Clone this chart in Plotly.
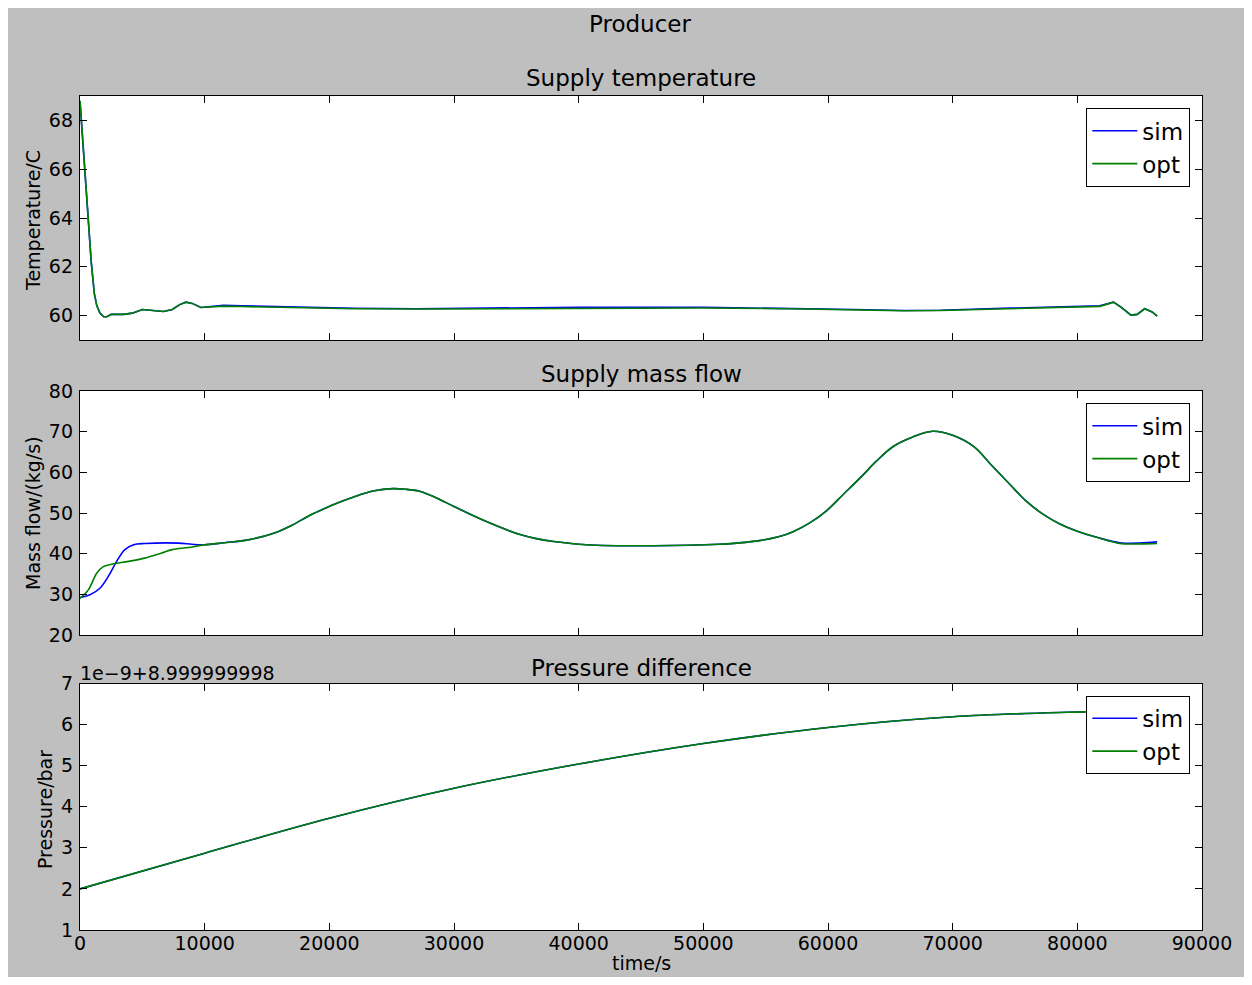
import plotly.graph_objects as go

# ---------------- data ----------------
temp_t = [0, 300, 600, 900, 1150, 1350, 1600, 1900, 2150, 2500, 3500, 4200, 5000, 5800, 6700,
          7400, 8000, 8500, 9000, 9700, 10500, 11500, 13000, 17000, 22000, 27000, 32000, 40000,
          50000, 57000, 62000, 66000, 69000, 74000, 79000, 81800, 82900, 83500, 84300, 84800,
          85400, 86000, 86400]
temp_sim = [68.8, 66.7, 64.5, 62.2, 60.9, 60.4, 60.1, 59.95, 59.95, 60.05, 60.05, 60.1, 60.25, 60.2, 60.17,
            60.25, 60.45, 60.55, 60.5, 60.33, 60.38, 60.42, 60.4, 60.35, 60.3, 60.28, 60.3, 60.34,
            60.34, 60.3, 60.25, 60.21, 60.22, 60.3, 60.38, 60.4, 60.55, 60.35, 60.02, 60.05,
            60.28, 60.15, 59.98]
temp_opt = [68.8, 66.7, 64.5, 62.2, 60.9, 60.4, 60.1, 59.95, 59.95, 60.05, 60.05, 60.1, 60.25, 60.2, 60.17,
            60.25, 60.45, 60.55, 60.5, 60.33, 60.36, 60.39, 60.37, 60.33, 60.28, 60.27, 60.28, 60.31,
            60.31, 60.28, 60.23, 60.2, 60.21, 60.28, 60.36, 60.38, 60.55, 60.35, 60.02, 60.05,
            60.28, 60.15, 59.98]

flow_t_sim = [0, 800, 1600, 2270, 2940, 3600, 4300, 5200, 7900, 9000, 10000, 11600, 13500, 15600,
              17000, 18300, 19400, 20500, 21900, 23500, 25100, 26200, 27300, 28600, 30000, 32600,
              35300, 36600, 38000, 40600, 46000, 51300, 52700, 54500, 56100, 57200, 58500, 59900,
              61200, 62600, 63900, 65200, 66800, 68400, 70000, 71700, 73100, 74600, 75900, 77300,
              78600, 80000, 81700, 83400, 85000, 86400]
flow_sim = [29.2, 29.9, 31.5, 34.4, 38.1, 41.0, 42.2, 42.5, 42.6, 42.3, 42.2, 42.7, 43.4, 45.1,
            47.0, 49.2, 50.8, 52.3, 53.9, 55.4, 56.0, 55.8, 55.3, 53.7, 51.6, 47.9,
            44.7, 43.7, 43.0, 42.2, 41.95, 42.3, 42.6, 43.2, 44.2, 45.4, 47.5, 50.6,
            54.5, 58.7, 62.8, 66.3, 68.7, 70.1, 69.1, 66.3, 61.8, 57.0, 52.9, 49.6,
            47.3, 45.5, 43.9, 42.7, 42.6, 42.9]
flow_t_opt = [0, 670, 1340, 1870, 2540, 3900, 5200, 6500, 7400, 8700, 9800, 11600, 13500, 15600,
              17000, 18300, 19400, 20500, 21900, 23500, 25100, 26200, 27300, 28600, 30000, 32600,
              35300, 36600, 38000, 40600, 46000, 51300, 52700, 54500, 56100, 57200, 58500, 59900,
              61200, 62600, 63900, 65200, 66800, 68400, 70000, 71700, 73100, 74600, 75900, 77300,
              78600, 80000, 81700, 83400, 85000, 86400]
flow_opt = [29.0, 31.1, 35.2, 36.8, 37.4, 38.1, 38.9, 40.1, 41.0, 41.5, 42.1, 42.7, 43.4, 45.1,
            47.0, 49.2, 50.8, 52.3, 53.9, 55.4, 56.0, 55.8, 55.3, 53.7, 51.6, 47.9,
            44.7, 43.7, 43.0, 42.2, 41.95, 42.3, 42.6, 43.2, 44.2, 45.4, 47.5, 50.6,
            54.5, 58.7, 62.8, 66.3, 68.7, 70.1, 69.1, 66.3, 61.8, 57.0, 52.9, 49.6,
            47.3, 45.5, 43.9, 42.5, 42.4, 42.5]

press_t = [0, 10000, 20000, 30000, 40000, 50000, 60000, 70000, 79200, 86400]
press_sim = [2.0, 2.87, 3.72, 4.45, 5.04, 5.54, 5.93, 6.19, 6.30, 6.34]
press_opt = [2.0, 2.87, 3.72, 4.45, 5.04, 5.54, 5.93, 6.19, 6.30, 6.34]

fig_title = "Producer"
panel_titles = ["Supply temperature", "Supply mass flow", "Pressure difference"]
y_titles = ["Temperature/C", "Mass flow/(kg/s)", "Pressure/bar"]
x_title = "time/s"
offset_text = "1e\u22129+8.999999998"
series_names = ["sim", "opt"]

# ---------------- style ----------------
OFF = 8                      # page body margin
W, H = 1252 - 2 * OFF, 985 - 2 * OFF
ML, MR, MT, MB = 72, 42, 88, 47
PW, PH = W - ML - MR, H - MT - MB
FONT = "DejaVu Sans"
BLUE = "#0000ff"
GREEN = "#008000"
GRAY = "#bfbfbf"


def px_x(p):
    """page pixel x -> paper fraction"""
    return (p - OFF - ML) / PW


def px_y(p):
    """page pixel y -> paper fraction"""
    return (H - MB - (p - OFF)) / PH


domains = [(px_y(340), 1.0), (px_y(635), px_y(391)), (0.0, px_y(683.5))]

fig = go.Figure()
data = [
    (temp_t, temp_sim, temp_t, temp_opt, "linear"),
    (flow_t_sim, flow_sim, flow_t_opt, flow_opt, "spline"),
    (press_t, press_sim, press_t, press_opt, "spline"),
]
for i, (ts, ys, to, yo, shape) in enumerate(data):
    ax = "" if i == 0 else str(i + 1)
    leg = "legend" if i == 0 else f"legend{i + 1}"
    fig.add_trace(go.Scatter(x=ts, y=ys, mode="lines", name=series_names[0],
                             line=dict(color=BLUE, width=1.6, shape=shape, smoothing=1.0),
                             xaxis="x" + ax, yaxis="y" + ax, legend=leg))
    fig.add_trace(go.Scatter(x=to, y=yo, mode="lines", name=series_names[1],
                             line=dict(color=GREEN, width=1.6, shape=shape, smoothing=1.0),
                             xaxis="x" + ax, yaxis="y" + ax, legend=leg))

tickfont = dict(family=FONT, size=19, color="black")
common_axis = dict(showline=True, linecolor="black", linewidth=1.3, mirror="allticks",
                   ticks="inside", ticklen=7, tickwidth=1, tickcolor="black",
                   showgrid=False, zeroline=False, tickfont=tickfont)

yranges = [(59, 69, 60, 2), (20, 80, 20, 10), (1, 7, 1, 1)]
layout = dict(
    width=W, height=H,
    margin=dict(l=ML, r=MR, t=MT, b=MB),
    paper_bgcolor=GRAY, plot_bgcolor="white",
    font=dict(family=FONT, color="black"),
    showlegend=True,
)
for i in range(3):
    ax = "" if i == 0 else str(i + 1)
    layout["xaxis" + ax] = dict(common_axis, range=[0, 90000], tick0=0, dtick=10000,
                                tickformat="d",
                                domain=[0, 1], anchor="y" + ax,
                                showticklabels=(i == 2), ticklabelstandoff=-4,
                                **({} if i == 2 else {"matches": "x3"}))
    r0, r1, t0, dt = yranges[i]
    layout["yaxis" + ax] = dict(common_axis, range=[r0, r1], tick0=t0, dtick=dt,
                                domain=list(domains[i]), anchor="x" + ax,
                                ticklabelstandoff=2)
    leg = "legend" if i == 0 else f"legend{i + 1}"
    layout[leg] = dict(x=px_x(1190), xanchor="right",
                       y=domains[i][1] - 12 / PH, yanchor="top",
                       bgcolor="white", bordercolor="black", borderwidth=1.3,
                       font=dict(family=FONT, size=23, color="black"),
                       itemwidth=45)

fig.update_layout(**layout)

ann = []
ann.append(dict(text=fig_title, x=px_x(640), y=px_y(24), xref="paper", yref="paper",
                showarrow=False, xanchor="center", yanchor="middle",
                font=dict(family=FONT, size=23, color="black")))
for title, yc in zip(panel_titles, [78, 374, 668]):
    ann.append(dict(text=title, x=0.5, y=px_y(yc), xref="paper", yref="paper",
                    showarrow=False, xanchor="center", yanchor="middle",
                    font=dict(family=FONT, size=23, color="black")))
for title, xc, yc in zip(y_titles, [33, 33, 45], [220, 513, 810]):
    ann.append(dict(text=title, x=px_x(xc), y=px_y(yc), xref="paper", yref="paper",
                    showarrow=False, xanchor="center", yanchor="middle", textangle=-90,
                    font=dict(family=FONT, size=19, color="black")))
ann.append(dict(text=x_title, x=0.5, y=px_y(963), xref="paper", yref="paper",
                showarrow=False, xanchor="center", yanchor="middle",
                font=dict(family=FONT, size=19, color="black")))
ann.append(dict(text=offset_text, x=0, y=px_y(673), xref="paper", yref="paper",
                showarrow=False, xanchor="left", yanchor="middle", xshift=-2,
                font=dict(family=FONT, size=19, color="black")))
fig.update_layout(annotations=ann)

fig.write_html("out.html")
